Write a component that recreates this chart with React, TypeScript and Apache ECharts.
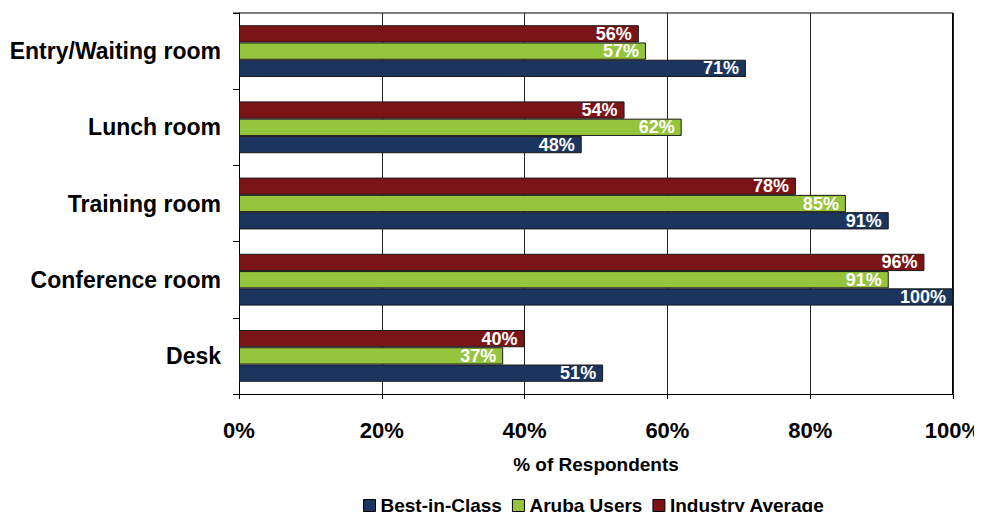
import React, { useEffect, useRef } from "react";
import * as echarts from "echarts";

const categories = ["Desk", "Conference room", "Training room", "Lunch room", "Entry/Waiting room"];
const bestInClass = [51, 100, 91, 48, 71];
const arubaUsers = [37, 91, 85, 62, 57];
const industryAverage = [40, 96, 78, 54, 56];
const seriesNames = ["Best-in-Class", "Aruba Users", "Industry Average"];
const xTicks = { min: 0, max: 100, interval: 20 };

const FONT = "'Liberation Sans', Arial, sans-serif";

export default function App() {
  const ref = useRef<HTMLDivElement>(null);
  useEffect(() => {
    if (!ref.current) return;
    const chart = echarts.init(ref.current, undefined, { renderer: "svg" });
    const label = {
      show: true,
      position: "insideRight" as const,
      distance: 7,
      color: "#ffffff",
      fontFamily: FONT,
      fontWeight: "bold" as const,
      fontSize: 18,
      lineHeight: 16,
      formatter: "{c}%",
    };
    const mk = (name: string, data: number[], color: string) => ({
      name,
      type: "bar",
      data,
      barGap: "0%",
      barCategoryGap: "32%",
      itemStyle: { color, borderColor: "#1a1a1a", borderWidth: 1 },
      label,
    });
    chart.setOption({
      animation: false,
      textStyle: { fontFamily: FONT },
      grid: {
        left: 239,
        right: 29,
        top: 13,
        bottom: 126,
        containLabel: false,
        outerBoundsMode: "none",
      },
      legend: {
        bottom: 0,
        left: 358,
        itemWidth: 12,
        itemHeight: 12,
        itemGap: 10,
        icon: "rect",
        data: seriesNames,
        itemStyle: { borderColor: "#000", borderWidth: 1 },
        textStyle: { fontFamily: FONT, fontWeight: "bold", fontSize: 19, color: "#000" },
      },
      xAxis: {
        type: "value",
        min: xTicks.min,
        max: xTicks.max,
        interval: xTicks.interval,
        name: "% of Respondents",
        nameLocation: "middle",
        nameGap: 61,
        nameTextStyle: { fontFamily: FONT, fontWeight: "bold", fontSize: 19, color: "#000" },
        axisLine: { show: true, lineStyle: { color: "#000", width: 1 } },
        axisTick: { show: true, length: 5, lineStyle: { color: "#000" } },
        axisLabel: {
          formatter: "{value}%",
          margin: 25,
          fontFamily: FONT,
          fontWeight: "bold",
          fontSize: 22,
          color: "#000",
        },
        splitLine: { show: true, lineStyle: { color: "#222", width: 1 } },
      },
      yAxis: {
        type: "category",
        data: categories,
        axisLine: { show: true, lineStyle: { color: "#000", width: 1 } },
        axisTick: { show: true, length: 6, lineStyle: { color: "#000" } },
        axisLabel: {
          margin: 18,
          fontFamily: FONT,
          fontWeight: "bold",
          fontSize: 23,
          color: "#000",
        },
      },
      graphic: [
        {
          type: "line",
          shape: { x1: 233, y1: 13, x2: 953, y2: 13 },
          style: { stroke: "#000", lineWidth: 1 },
        },
        {
          type: "line",
          shape: { x1: 953, y1: 13, x2: 953, y2: 394 },
          style: { stroke: "#000", lineWidth: 2 },
        },
      ],
      series: [
        mk(seriesNames[2], industryAverage, "#7B1416"),
        mk(seriesNames[1], arubaUsers, "#95C43D"),
        mk(seriesNames[0], bestInClass, "#1B355F"),
      ],
    });
    return () => chart.dispose();
  }, []);
  return <div ref={ref} style={{ width: 982, height: 520, margin: -8 }} />;
}
